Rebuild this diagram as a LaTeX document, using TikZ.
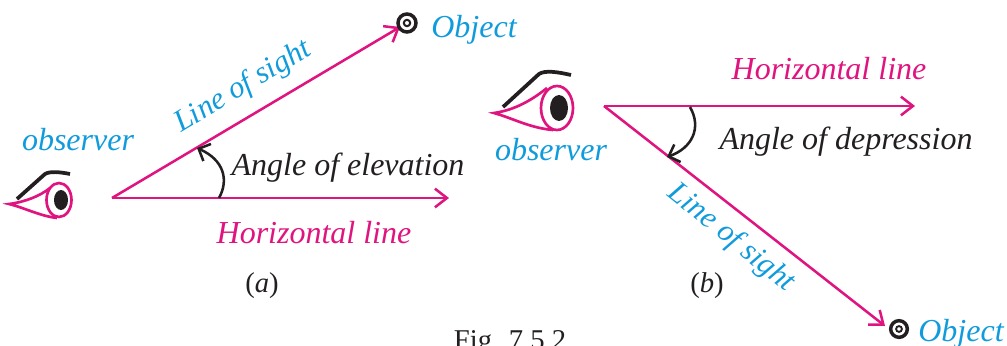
\documentclass[tikz,border=0pt]{standalone}
\usepackage{fontspec}
\setmainfont{Liberation Serif}
\usetikzlibrary{arrows.meta}
\definecolor{cy}{HTML}{0F9BDC}
\definecolor{mg}{HTML}{E0147F}
\definecolor{ink}{HTML}{231F20}
\tikzset{
  x=0.75pt,y=-0.75pt,
  ray/.style={draw=mg,line width=1.9pt,-{Straight Barb[length=9pt,width=14pt,line width=1.9pt]}},
  anglearc/.style={draw=ink,line width=1.9pt,-{Straight Barb[length=7pt,width=14pt,line width=1.9pt]}},
  lid/.style={draw=mg,line width=2pt,line join=miter},
  brow/.style={draw=ink,line width=2.8pt},
  bluetxt/.style={text=cy,font=\fontsize{24}{26}\selectfont\itshape,inner sep=0pt},
  sighttxt/.style={text=cy,font=\fontsize{23}{25}\selectfont\itshape,inner sep=0pt},
  redtxt/.style={text=mg,font=\fontsize{24}{26}\selectfont\itshape,inner sep=0pt},
  inktxt/.style={text=ink,font=\fontsize{24}{26}\selectfont\itshape,inner sep=0pt},
  captxt/.style={text=ink,font=\fontsize{21.5}{23}\selectfont,inner sep=0pt},
  target/.style={circle,draw=ink,fill=white,inner sep=0pt},
}
\begin{document}
\begin{tikzpicture}
\useasboundingbox (0,0) rectangle (1007,346);
\clip (0,0) rectangle (1007,346);
% part (a)
\coordinate (oa) at (112,198);
\coordinate (ha) at (449,198);
\coordinate (sa) at (400,27);
\coordinate (aa1) at (219,198);
\coordinate (aa2) at (197,148);
\draw[ray] (oa) -- (ha);
\draw[ray] (oa) -- (sa);
\draw[anglearc] (aa1) .. controls (229,180) and (224,160) .. (aa2);
\node[target,minimum size=13.5pt,line width=2.6pt] (ta) at (407,23) {};
\draw[ink,line width=1.5pt] (ta) circle[radius=3.2];
% eye a
\draw[brow] (17,199) -- (45,174) .. controls (50,171) and (60,172) .. (70,174);
\draw[lid] (50,188) .. controls (40,196) and (25,202) .. (9,204) .. controls (25,208) and (40,216) .. (57,218);
\draw[lid,fill=white] (59,200) ellipse[x radius=12.5,y radius=17];
\fill[ink] (61,200) ellipse[x radius=7,y radius=10];
% part (b)
\coordinate (ob) at (604,106);
\coordinate (hb) at (915,106);
\coordinate (sb) at (885,326);
\coordinate (ab1) at (690,107);
\coordinate (ab2) at (667,157);
\draw[ray] (ob) -- (hb);
\draw[ray] (ob) -- (sb);
\draw[anglearc] (ab1) .. controls (702,128) and (692,148) .. (ab2);
\node[target,minimum size=12.5pt,line width=2.6pt] (tb) at (899,329) {};
\draw[ink,line width=1.4pt] (tb) circle[radius=2.9];
% eye b
\draw[brow] (503,107) -- (539,74) .. controls (545,70) and (558,72) .. (571,75);
\draw[lid] (547,88) .. controls (532,100) and (515,110) .. (494,113) .. controls (512,118) and (530,128) .. (553,130);
\draw[lid,fill=white] (557,108) ellipse[x radius=16,y radius=22];
\fill[ink] (559,108) ellipse[x radius=9,y radius=13];
% labels
\node[bluetxt] (t1) at (474,30) {Object};
\node[bluetxt] (t2) at (78,140) {observer};
\node[sighttxt,rotate=31] (t3) at (243,87) {Line of sight};
\node[inktxt] (t4) at (348,168) {Angle of elevation};
\node[redtxt] (t5) at (314,233) {Horizontal line};
\node[captxt] (t6) at (262,286) {(\textit{a})};
\node[redtxt] (t7) at (829,69) {Horizontal line};
\node[inktxt] (t8) at (846,142) {Angle of depression};
\node[bluetxt] (t9) at (551,150) {observer};
\node[sighttxt,rotate=-39] (t10) at (731,238) {Line of sight};
\node[captxt] (t11) at (707,286) {(\textit{b})};
\node[bluetxt] (t12) at (961,334) {Object};
\node[captxt,anchor=base] (t13) at (510,349) {Fig. 7.5.2};
\end{tikzpicture}
\end{document}
